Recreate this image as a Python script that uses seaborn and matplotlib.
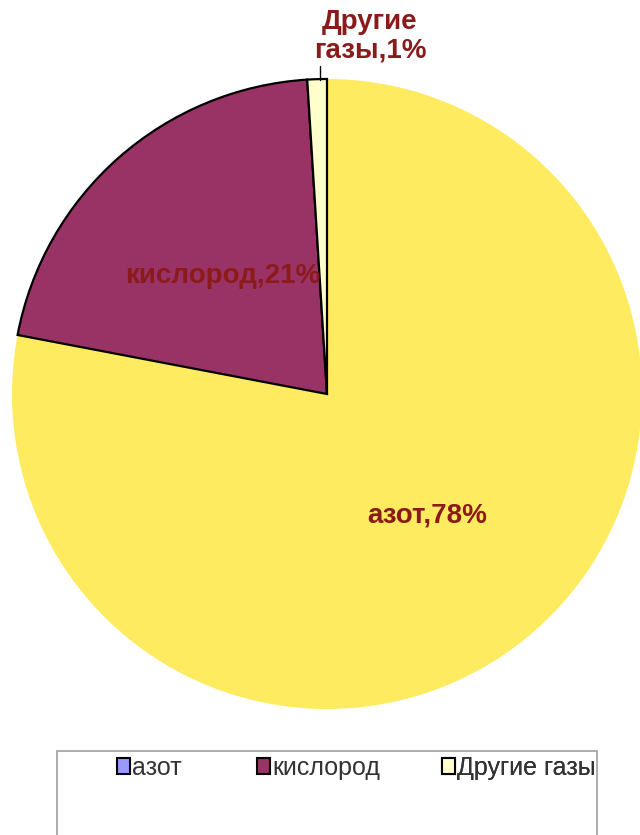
import numpy as np
import matplotlib
matplotlib.use('Agg')
import matplotlib.pyplot as plt
import seaborn as sns
from matplotlib.patches import Patch, Rectangle
from matplotlib.transforms import Bbox

# данные диаграммы (состав воздуха)
gases = ['азот', 'кислород', 'Другие газы']
shares = [78, 21, 1]
pie_colors = ['#FFEB60', '#993366', '#FFFFCC']
legend_colors = ['#9999FF', '#993366', '#FFFFCC']  # как в исходнике: легенда азота синяя

sns.set_theme(style='white')
plt.rcParams['font.family'] = ['Liberation Sans', 'DejaVu Sans']

W, H = 640, 835
fig = plt.figure(figsize=(W / 100, H / 100), dpi=100)
ax = fig.add_axes([0, 0, 1, 1])

center = (327, H - 394)
radius = 315
label_color = '#8B1A1A'

wedges, texts = ax.pie(shares, colors=pie_colors, startangle=90, counterclock=False,
                       center=center, radius=radius, frame=True,
                       labels=[f'{g},{s}%' for g, s in zip(gases, shares)],
                       labeldistance=0.5,
                       textprops=dict(color=label_color, fontsize=20, fontweight='bold'))
ax.set_xlim(0, W)
ax.set_ylim(0, H)
ax.set_aspect('equal')
ax.axis('off')

# у азота нет контура, у остальных - чёрный
for w, g in zip(wedges, gases):
    if g == 'азот':
        w.set_edgecolor('none')
    else:
        w.set_edgecolor('black')
        w.set_linewidth(1.6)

for t in texts:
    t.set_ha('center')
    t.set_va('center')

# подпись маленького сектора выносим наверх
texts[2].set_text('Другие\nгазы,1%')
texts[2].set_position((370, H - 36))
texts[2].set_linespacing(1.1)
ax.plot([320, 320], [H - 66, H - 80], color='black', lw=1)

# рамка легенды
frame_box = Rectangle((57, -5), 540, H - 751 + 5, fill=False, edgecolor='#A0A0A0', lw=1.2,
                      clip_on=False)
ax.add_patch(frame_box)
clip = Bbox.from_extents(0, 0, 596, H)

legend_x = [117, 257, 442]
for name, col, lx in zip(gases, legend_colors, legend_x):
    leg = ax.legend([Patch(facecolor=col, edgecolor='black', lw=1.5)], [name],
                    frameon=False, loc='upper left',
                    bbox_to_anchor=(lx / W, (H - 756) / H), fontsize=18,
                    handlelength=0.5, handleheight=0.6, handletextpad=0.1,
                    borderaxespad=0, borderpad=0)
    for t in leg.get_texts():
        t.set_color('#333333')
        t.set_clip_box(clip)
        t.set_clip_on(True)
    ax.add_artist(leg)

fig.savefig('out.png', dpi=100)
